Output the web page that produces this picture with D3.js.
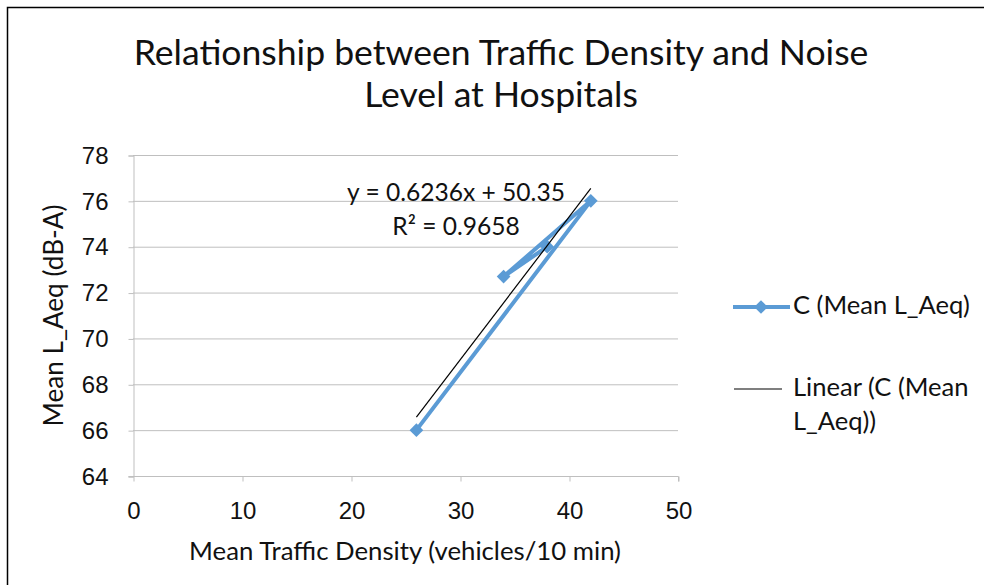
<!DOCTYPE html>
<html>
<head>
<meta charset="utf-8">
<script src="https://cdn.jsdelivr.net/npm/d3@7"></script>
<style>
  html, body { margin: 0; padding: 0; background: #fff; }
  svg { display: block; font-family: Lato, "Open Sans", sans-serif; }
</style>
</head>
<body>
<div id="chart"></div>
<script>
// donnees
const title = ["Relationship between Traffic Density and Noise", "Level at Hospitals"];
const xTitle = "Mean Traffic Density (vehicles/10 min)";
const yTitle = "Mean L_Aeq (dB-A)";
const traffic = [26, 42, 34, 38];
const laeq = [66, 76, 72.7, 74];
const xTicks = [0, 10, 20, 30, 40, 50];
const yTicks = [64, 66, 68, 70, 72, 74, 76, 78];
const seriesName = "C (Mean L_Aeq)";
const trendName = ["Linear (C (Mean", "L_Aeq))"];
const equation = ["y = 0.6236x + 50.35", "R² = 0.9658"];

const W = 984, H = 585;
const blue = "#5b9bd5";
const grid = "#bfbfbf";
const ink = "#111";

const svg = d3.select("#chart").append("svg").attr("width", W).attr("height", H);

// ajuste la taille de police pour une largeur donnee
function fit(sel, width) {
  const fs = +sel.attr("font-size");
  const w = sel.node().getComputedTextLength();
  sel.attr("font-size", (fs * width) / w);
  return sel;
}

// cadre
svg.append("path")
  .attr("d", `M7.5,${H} V7.5 H${W}`)
  .attr("fill", "none").attr("stroke", "#000").attr("stroke-width", 1.5);

const x = d3.scaleLinear().domain([0, 50]).range([133, 678]);
const y = d3.scaleLinear().domain([64, 78]).range([476, 155]);

// grille
svg.append("g").selectAll("line").data(yTicks.slice(1)).join("line")
  .attr("x1", x(0)).attr("x2", x(50))
  .attr("y1", (d) => y(d) + 0.5).attr("y2", (d) => y(d) + 0.5)
  .attr("stroke", grid).attr("stroke-width", 1);

// axe y
const gy = svg.append("g").attr("transform", `translate(${x(0) + 0.5},0.5)`)
  .call(d3.axisLeft(y).tickValues(yTicks).tickSize(5).tickPadding(20));
gy.select(".domain").attr("stroke", grid);
gy.selectAll(".tick line").attr("stroke", grid);
gy.selectAll("text").attr("font-size", 24).attr("fill", ink).attr("font-family", "inherit");

// axe x
const gx = svg.append("g").attr("transform", `translate(0.5,${y(64) + 0.5})`)
  .call(d3.axisBottom(x).tickValues(xTicks).tickSize(5).tickPadding(20));
gx.select(".domain").attr("stroke", grid).attr("d", `M${x(0) - 5},0H${x(50)}V5`);
gx.selectAll(".tick line").attr("stroke", grid);
gx.selectAll("text").attr("font-size", 24).attr("fill", ink).attr("font-family", "inherit");

// titre
const t1 = svg.append("text").attr("x", 501).attr("y", 65)
  .attr("text-anchor", "middle").attr("font-size", 28).attr("fill", ink).text(title[0]);
fit(t1, 735);
svg.append("text").attr("x", 501).attr("y", 107)
  .attr("text-anchor", "middle").attr("font-size", t1.attr("font-size")).attr("fill", ink).text(title[1]);

fit(svg.append("text").attr("x", 405).attr("y", 560).attr("text-anchor", "middle")
  .attr("font-size", 22).attr("fill", ink).text(xTitle), 432);

fit(svg.append("text").attr("transform", `translate(63,${(y(64) + y(78)) / 2}) rotate(-90)`)
  .attr("text-anchor", "middle").attr("font-size", 22).attr("fill", ink).text(yTitle), 222);

// serie
const pts = traffic.map((d, i) => [d, laeq[i]]);
svg.append("path").datum(pts)
  .attr("d", d3.line().x((d) => x(d[0])).y((d) => y(d[1])))
  .attr("fill", "none").attr("stroke", blue).attr("stroke-width", 4).attr("stroke-linejoin", "round");

const diamond = d3.symbol().type(d3.symbolDiamond2).size(120);
svg.append("g").selectAll("path").data(pts).join("path")
  .attr("transform", (d) => `translate(${x(d[0])},${y(d[1])})`)
  .attr("d", diamond).attr("fill", blue);

// tendance lineaire (moindres carres)
const mx = d3.mean(traffic), my = d3.mean(laeq);
const slope = d3.sum(traffic, (d, i) => (d - mx) * (laeq[i] - my)) / d3.sum(traffic, (d) => (d - mx) ** 2);
const icpt = my - slope * mx;
const [x0, x1] = d3.extent(traffic);
svg.append("line")
  .attr("x1", x(x0)).attr("y1", y(slope * x0 + icpt))
  .attr("x2", x(x1)).attr("y2", y(slope * x1 + icpt))
  .attr("stroke", "#000").attr("stroke-width", 1.2);

const eq = svg.append("text").attr("x", 456).attr("y", 201).attr("text-anchor", "middle")
  .attr("font-size", 21).attr("fill", ink).text(equation[0]);
fit(eq, 218);
svg.append("text").attr("x", 456).attr("y", 235).attr("text-anchor", "middle")
  .attr("font-size", eq.attr("font-size")).attr("fill", ink).text(equation[1]);

// legende
const lg = svg.append("g");
lg.append("line").attr("x1", 733).attr("x2", 790).attr("y1", 307).attr("y2", 307)
  .attr("stroke", blue).attr("stroke-width", 4);
lg.append("path").attr("transform", "translate(761,307)").attr("d", diamond).attr("fill", blue);
const l1 = lg.append("text").attr("x", 793).attr("y", 314).attr("font-size", 22).attr("fill", ink).text(seriesName);
fit(l1, 177);
lg.append("line").attr("x1", 734).attr("x2", 782).attr("y1", 389).attr("y2", 389)
  .attr("stroke", "#000").attr("stroke-width", 1.2);
lg.append("g").selectAll("text").data(trendName).join("text")
  .attr("x", 793).attr("y", (d, i) => 396 + i * 34).attr("font-size", l1.attr("font-size")).attr("fill", ink)
  .text((d) => d);
</script>
</body>
</html>
